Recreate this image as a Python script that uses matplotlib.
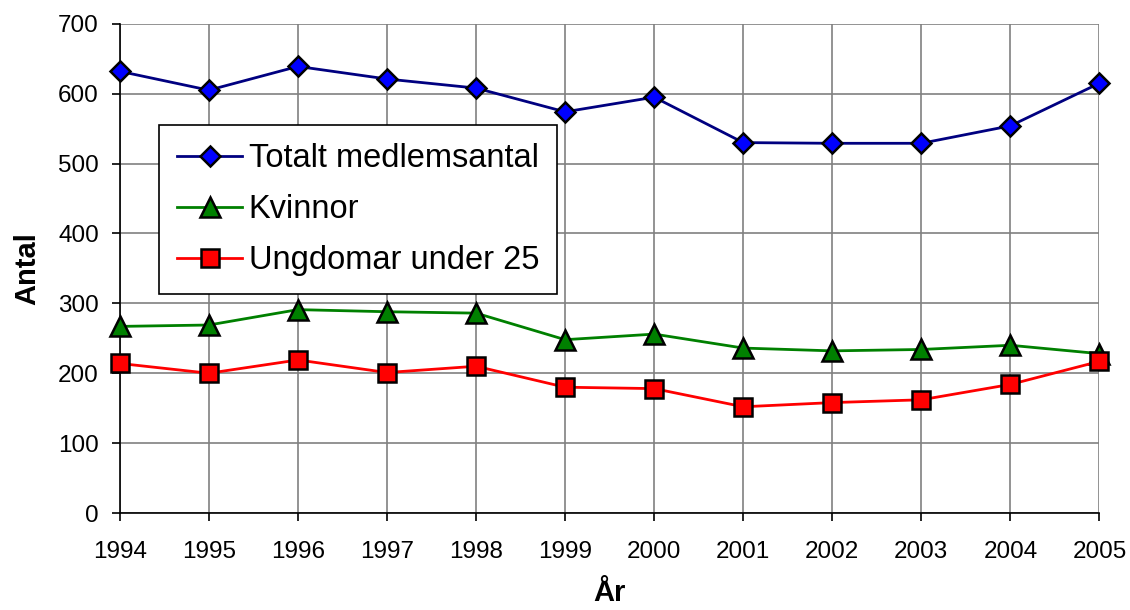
import matplotlib.pyplot as plt

plt.rcParams['font.family'] = ['Liberation Sans', 'DejaVu Sans']

ar = list(range(1994, 2006))
totalt = [632, 605, 639, 621, 608, 574, 595, 530, 529, 529, 554, 615]
kvinnor = [267, 269, 291, 288, 286, 248, 256, 236, 232, 234, 240, 228]
ungdomar = [214, 200, 219, 201, 210, 180, 178, 152, 158, 162, 184, 217]


def main() -> None:
    fig = plt.figure(figsize=(11.3, 6.1), dpi=100)
    ax = fig.add_axes([0.106, 0.159, 0.867, 0.802])

    ax.plot(ar, totalt, color="#000080", lw=2, marker="D", ms=10.5,
            mfc="#0000ff", mec="black", mew=1.8, label="Totalt medlemsantal",
            clip_on=False, zorder=5)
    ax.plot(ar, kvinnor, color="#008000", lw=2, marker="^", ms=14,
            mfc="#008000", mec="black", mew=1.8, label="Kvinnor",
            clip_on=False, zorder=5)
    ax.plot(ar, ungdomar, color="#ff0000", lw=2, marker="s", ms=12.5,
            mfc="#ff0000", mec="black", mew=1.8, label="Ungdomar under 25",
            clip_on=False, zorder=6)

    ax.set_xlim(1994, 2005)
    ax.set_ylim(0, 700)
    ax.set_xticks(ar)
    ax.set_yticks(range(0, 701, 100))
    ax.tick_params(labelsize=17.5, direction="out", length=6, width=1.2)
    ax.tick_params(axis="x", pad=14)
    ax.tick_params(axis="y", pad=9)
    ax.grid(True, color="#808080", lw=1.2)
    ax.set_axisbelow(True)
    for s in ["top", "right"]:
        ax.spines[s].set_visible(False)
    for s in ["left", "bottom"]:
        ax.spines[s].set_linewidth(1.2)

    ax.set_xlabel("År", fontsize=21, fontweight="bold", labelpad=12)
    ax.set_ylabel("Antal", fontsize=21, fontweight="bold", labelpad=12)

    leg = ax.legend(loc="upper left", bbox_to_anchor=(0.04, 0.793),
                    fontsize=23.5, fancybox=False, framealpha=1,
                    edgecolor="black", handlelength=2.0, handletextpad=0.2,
                    labelspacing=0.62, borderpad=0.55, borderaxespad=0)
    leg.get_frame().set_linewidth(1.2)

    fig.savefig("out.png")


if __name__ == "__main__":
    main()
